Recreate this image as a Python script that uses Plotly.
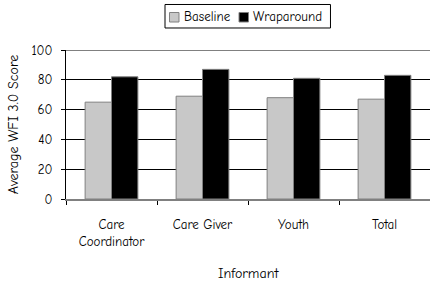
import plotly.graph_objects as go

categories = ["Care<br>Coordinator", "Care Giver", "Youth", "Total"]
series_names = ["Baseline", "Wraparound"]
baseline = [65, 69, 68, 67]
wraparound = [82, 87, 81, 83]
y_ticks = [0, 20, 40, 60, 80, 100]
x_title = "Informant"
y_title = "Average WFI 3.0 Score"

FONT = "Comic Sans MS, Comic Neue, DejaVu Sans, sans-serif"
COLORS = ["#C8C8C8", "#000000"]
OUTLINE = "#808080"

fig = go.Figure()
for name, vals, col in zip(series_names, [baseline, wraparound], COLORS):
    fig.add_trace(go.Bar(name=name, x=categories, y=vals, showlegend=False,
                         marker=dict(color=col, line=dict(color=OUTLINE, width=1))))

fig.update_layout(
    width=430, height=281,
    margin=dict(l=66, r=0, t=50, b=82, autoexpand=False),
    paper_bgcolor="white", plot_bgcolor="white",
    barmode="group", bargap=0.42, bargroupgap=0,
    font=dict(family=FONT, size=13, color="black"),
    showlegend=False,
    xaxis=dict(type="category", ticks="outside", tickson="boundaries", ticklen=4,
               tickcolor="black", showline=True, linecolor=OUTLINE, linewidth=2,
               automargin=False, ticklabelstandoff=12,
               tickfont=dict(size=13)),
    yaxis=dict(range=[0, 100], tickvals=y_ticks, ticks="outside", ticklen=4,
               tickcolor="black", showline=True, linecolor="black", linewidth=1,
               showgrid=True, gridcolor="black", gridwidth=1, zeroline=False,
               automargin=False, ticklabelstandoff=6,
               title=dict(text=y_title, font=dict(size=14), standoff=9),
               tickfont=dict(size=13)),
)
fig.add_shape(type="line", xref="paper", yref="y", x0=0, x1=1, y0=100, y1=100,
              line=dict(color=OUTLINE, width=2))

# X-axis title placed as annotation (below the plot area)
fig.add_annotation(text=x_title, xref="paper", yref="paper", x=0.5, y=-0.50,
                   xanchor="center", yanchor="middle", showarrow=False,
                   font=dict(size=14))

# Legend (drawn manually to match the compact boxed legend)
fig.add_shape(type="rect", xref="paper", yref="paper", x0=0.272, x1=0.7266,
              y0=1.1477, y1=1.3054, line=dict(color="black", width=1),
              fillcolor="white")
legend_sq = [(0.2843, 0.3104), (0.4753, 0.5014)]
legend_txt_x = [0.3187, 0.5082]
for name, col, (sx0, sx1), tx in zip(series_names, COLORS, legend_sq, legend_txt_x):
    fig.add_shape(type="rect", xref="paper", yref="paper", x0=sx0, x1=sx1,
                  y0=1.1879, y1=1.2517, line=dict(color=OUTLINE, width=1),
                  fillcolor=col)
    fig.add_annotation(text=name, xref="paper", yref="paper", x=tx, y=1.2215,
                       xanchor="left", yanchor="middle", showarrow=False,
                       font=dict(size=13))

fig.write_html("out.html", config={"displayModeBar": False},
               post_script="document.body.style.margin='0';")
